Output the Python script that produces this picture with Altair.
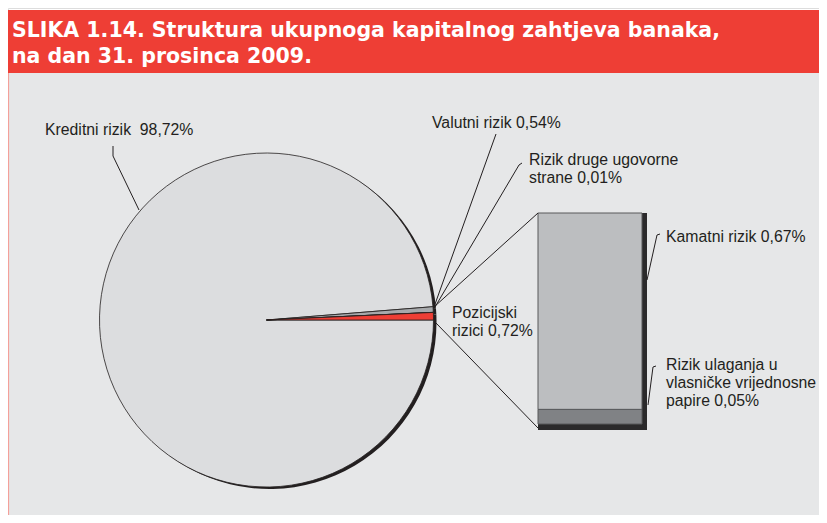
import math
import altair as alt
import pandas as pd

# ---- data ----
pie_categories = ["Kreditni rizik", "Valutni rizik", "Rizik druge ugovorne strane", "Pozicijski rizici"]
pie_values = [98.72, 0.54, 0.01, 0.72]
pie_colors = ["#dcdddf", "#a7a9ac", "#a7a9ac", "#ee3e35"]

bar_categories = ["Rizik ulaganja u vlasničke vrijednosne papire", "Kamatni rizik"]
bar_values = [0.05, 0.67]
bar_colors = ["#808285", "#bcbec0"]

title_lines = ["SLIKA 1.14. Struktura ukupnoga kapitalnog zahtjeva banaka,",
               "na dan 31. prosinca 2009."]

W, H = 811, 507
TXT = "#231f20"
FONT = "Liberation Sans"

pie_df = pd.DataFrame({"cat": pie_categories, "value": pie_values, "ord": list(range(len(pie_values)))})
bar_df = pd.DataFrame({"cat": bar_categories, "value": bar_values, "ord": list(range(len(bar_values)))})
one = pd.DataFrame({"a": [0]})

base1 = alt.Chart(one)

def rect(x, x2, y, y2, fill):
    return base1.mark_rect(fill=fill).encode(x=alt.value(x), x2=alt.value(x2), y=alt.value(y), y2=alt.value(y2))

def seg(x, y, x2, y2, w=1.0, color=TXT):
    return base1.mark_rule(color=color, strokeWidth=w).encode(
        x=alt.value(x), y=alt.value(y), x2=alt.value(x2), y2=alt.value(y2))

def label(txt, x, y, size=15.8, color=TXT, bold=False, font=FONT):
    return base1.mark_text(align="left", baseline="alphabetic", font=font, fontSize=size,
                           color=color, fontWeight="bold" if bold else "normal").encode(
        x=alt.value(x), y=alt.value(y), text=alt.value(txt))

header = rect(0, W, 2, 65, "#ee3e35")
panel = rect(0, W, 65, H, "#e6e7e8")
panel_edge = seg(0.5, 65, 0.5, H, 1.2, "#f4a09a")

theta_scale = alt.Scale(range=[math.pi / 2, math.pi / 2 + 2 * math.pi])
CX, CY, R = 258.5, 312, 167

pie_shadow = alt.Chart(pie_df).mark_arc(outerRadius=R, fill="#231f20", xOffset=3, yOffset=2).encode(
    theta=alt.Theta("value:Q", stack=True, scale=theta_scale),
    order=alt.Order("ord:Q"),
    x=alt.value(CX), y=alt.value(CY))

pie = alt.Chart(pie_df).mark_arc(outerRadius=R, stroke="#231f20", strokeWidth=0.8).encode(
    theta=alt.Theta("value:Q", stack=True, scale=theta_scale),
    order=alt.Order("ord:Q"),
    color=alt.Color("cat:N", scale=alt.Scale(domain=pie_categories, range=pie_colors), legend=None),
    x=alt.value(CX), y=alt.value(CY))

yscale = alt.Scale(domain=[0, sum(bar_values)], range=[416, 205])

bar_base = alt.Chart(bar_df).transform_stack(
    stack="value", as_=["y0", "y1"], groupby=[], sort=[alt.SortField("ord")])

bar_shadow = bar_base.mark_rect(fill="#2b2a2b", yOffset=6).encode(
    x=alt.value(530), x2=alt.value(639),
    y=alt.Y("y0:Q", scale=yscale, axis=None), y2="y1:Q")

bar = bar_base.mark_rect(stroke="#58595b", strokeWidth=1).encode(
    x=alt.value(530), x2=alt.value(634),
    y=alt.Y("y0:Q", scale=yscale, axis=None), y2="y1:Q",
    color=alt.Color("cat:N", scale=alt.Scale(domain=bar_categories, range=bar_colors), legend=None))

lines = [
    seg(105, 138, 105, 148), seg(105, 148, 131, 202),            # kreditni
    seg(488, 126, 426, 299),                                      # valutni
    seg(511, 157, 427, 299), seg(511, 157, 514, 155),             # druge
    seg(426, 299, 530, 205), seg(428, 315, 530, 420),             # connectors
    seg(639, 272, 649, 227), seg(649, 227, 652, 226),             # kamatni
    seg(640, 397, 645, 359), seg(645, 359, 648, 358),             # ulaganja
]

texts = [
    label(title_lines[0], 4, 29, 20.5, "white", True, "DejaVu Sans"),
    label(title_lines[1], 4, 55, 20.5, "white", True, "DejaVu Sans"),
    label("Kreditni rizik\u00a0\u00a098,72%", 37, 127),
    label("Valutni rizik 0,54%", 424, 120),
    label("Rizik druge ugovorne", 521, 157),
    label("strane 0,01%", 521, 175),
    label("Pozicijski", 444, 310),
    label("rizici 0,72%", 444, 328),
    label("Kamatni rizik 0,67%", 658, 234),
    label("Rizik ulaganja u", 658, 362),
    label("vlasničke vrijednosne", 658, 380),
    label("papire 0,05%", 658, 398),
]

chart = alt.layer(
    panel, header, panel_edge, pie_shadow, pie, bar_shadow, bar, *lines, *texts
).resolve_scale(color="independent").properties(
    width=W, height=H, padding=0, autosize=alt.AutoSizeParams(type="none")
).configure_view(stroke=None).configure(background="white")

chart.save("out.html", embed_options={"renderer": "svg", "actions": False})
